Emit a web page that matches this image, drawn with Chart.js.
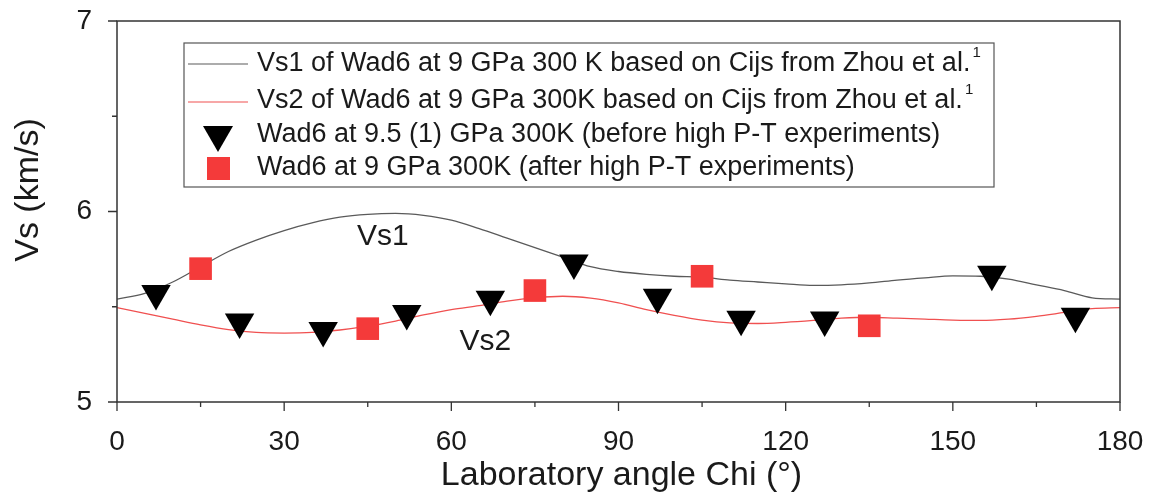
<!DOCTYPE html>
<html>
<head>
<meta charset="utf-8">
<title>Vs vs Chi</title>
<script src="https://cdn.jsdelivr.net/npm/chart.js@4.4.1/dist/chart.umd.min.js"></script>
<style>
  html, body { margin: 0; padding: 0; background: #fff; }
  #wrap { width: 1153px; height: 498px; }
</style>
</head>
<body>
<div id="wrap"><canvas id="vsChart" width="1153" height="498"></canvas></div>
<script>
// calculated curves, every 5 degrees
const curveChi = [0, 5, 10, 15, 20, 25, 30, 35, 40, 45, 50, 55, 60, 65, 70, 75, 80, 85, 90,
  95, 100, 105, 110, 115, 120, 125, 130, 135, 140, 145, 150, 155, 160, 165, 170, 175, 180];
const vs1 = [5.54, 5.57, 5.63, 5.71, 5.79, 5.85, 5.90, 5.94, 5.97, 5.985, 5.99, 5.98, 5.955,
  5.91, 5.86, 5.81, 5.76, 5.71, 5.685, 5.67, 5.66, 5.655, 5.64, 5.63, 5.62, 5.612, 5.615,
  5.625, 5.64, 5.652, 5.662, 5.66, 5.645, 5.615, 5.585, 5.547, 5.54];
const vs2 = [5.495, 5.465, 5.435, 5.405, 5.38, 5.365, 5.362, 5.365, 5.378, 5.398, 5.425,
  5.457, 5.485, 5.506, 5.53, 5.547, 5.555, 5.545, 5.52, 5.485, 5.455, 5.43, 5.415, 5.412,
  5.418, 5.428, 5.44, 5.445, 5.44, 5.435, 5.43, 5.428, 5.435, 5.45, 5.47, 5.49, 5.495];

// measured: before high P-T experiments
const beforeChi = [7, 22, 37, 52, 67, 82, 97, 112, 127, 157, 172];
const beforeVs = [5.57, 5.42, 5.375, 5.465, 5.54, 5.73, 5.55, 5.435, 5.43, 5.67, 5.45];

// measured: after high P-T experiments
const afterChi = [15, 45, 75, 105, 135];
const afterVs = [5.70, 5.385, 5.585, 5.66, 5.40];

const xTicks = [0, 30, 60, 90, 120, 150, 180];
const yTicks = [5, 6, 7];

const xTitle = "Laboratory angle Chi (°)";
const yTitle = "Vs (km/s)";
const legendLabels = [
  "Vs1 of Wad6 at 9 GPa 300 K based on Cijs from Zhou et al.",
  "Vs2 of Wad6 at 9 GPa 300K based on Cijs from Zhou et al.",
  "Wad6 at 9.5 (1) GPa 300K (before high P-T experiments)",
  "Wad6 at 9 GPa 300K (after high P-T experiments)",
];
const curveNotes = [
  { text: "Vs1", x: 47.7, y: 5.87 },
  { text: "Vs2", x: 66.1, y: 5.316 },
];

const FONT = '"Liberation Sans", Arial, sans-serif';
const INK = "#1a1a1a";
const GREY_LINE = "#5a5a5a";
const RED_LINE = "#f05050";
const RED_MARK = "#f43a3a";

const toPoints = (xs, ys) => xs.map((x, i) => ({ x: x, y: ys[i] }));

// frame, outward ticks (major longer than minor), axis titles, curve names
const frameTicks = {
  id: "frameTicks",
  afterDatasetsDraw(chart) {
    const { ctx, chartArea: a, scales } = chart;
    ctx.save();
    ctx.strokeStyle = "#333";
    ctx.lineWidth = 1.5;
    ctx.strokeRect(a.left, a.top, a.right - a.left, a.bottom - a.top);
    ctx.lineWidth = 1.3;
    ctx.beginPath();
    for (let v = 0; v <= 180; v += 15) {
      const px = scales.x.getPixelForValue(v);
      const len = v % 30 === 0 ? 9 : 5;
      ctx.moveTo(px, a.bottom);
      ctx.lineTo(px, a.bottom + len);
    }
    for (let v = 5; v <= 7.001; v += 0.5) {
      const py = scales.y.getPixelForValue(v);
      const len = Math.abs(v - Math.round(v)) < 0.01 ? 9 : 5;
      ctx.moveTo(a.left, py);
      ctx.lineTo(a.left - len, py);
    }
    ctx.stroke();

    ctx.fillStyle = INK;
    ctx.textAlign = "center";
    ctx.textBaseline = "alphabetic";
    ctx.font = "34px " + FONT;
    ctx.fillText(xTitle, (a.left + a.right) / 2 + 3, 485);
    ctx.save();
    ctx.translate(38, 190);
    ctx.rotate(-Math.PI / 2);
    ctx.fillText(yTitle, 0, 0);
    ctx.restore();

    ctx.font = "30px " + FONT;
    ctx.textBaseline = "middle";
    curveNotes.forEach((n) => {
      ctx.fillText(n.text, scales.x.getPixelForValue(n.x), scales.y.getPixelForValue(n.y));
    });
    ctx.restore();
  },
};

// boxed legend in the upper part of the plot
const boxLegend = {
  id: "boxLegend",
  afterDraw(chart) {
    const { ctx } = chart;
    const box = { l: 184, t: 43, r: 994, b: 187 };
    const rows = [64, 101, 135, 168];
    const textX = 257;
    ctx.save();
    ctx.fillStyle = "#fff";
    ctx.fillRect(box.l, box.t, box.r - box.l, box.b - box.t);
    ctx.strokeStyle = "#555";
    ctx.lineWidth = 1.2;
    ctx.strokeRect(box.l, box.t, box.r - box.l, box.b - box.t);

    // line samples
    ctx.lineWidth = 1.2;
    ctx.strokeStyle = GREY_LINE;
    ctx.beginPath(); ctx.moveTo(188, rows[0]); ctx.lineTo(248, rows[0]); ctx.stroke();
    ctx.strokeStyle = RED_LINE;
    ctx.beginPath(); ctx.moveTo(188, rows[1] + 1); ctx.lineTo(248, rows[1] + 1); ctx.stroke();

    // marker samples
    ctx.fillStyle = "#000";
    ctx.beginPath();
    ctx.moveTo(203, 126);
    ctx.lineTo(233, 126);
    ctx.lineTo(218, 152);
    ctx.closePath();
    ctx.fill();
    ctx.fillStyle = RED_MARK;
    ctx.fillRect(207, 157, 23, 23);

    ctx.fillStyle = INK;
    ctx.textAlign = "left";
    ctx.textBaseline = "middle";
    legendLabels.forEach((txt, i) => {
      ctx.font = "27px " + FONT;
      ctx.fillText(txt, textX, rows[i]);
      if (i < 2) {
        const w = ctx.measureText(txt).width;
        ctx.font = "15px " + FONT;
        ctx.fillText("1", textX + w + 2, rows[i] - 11);
      }
    });
    ctx.restore();
  },
};

new Chart(document.getElementById("vsChart"), {
  type: "scatter",
  data: {
    datasets: [
      {
        label: "Vs1",
        data: toPoints(curveChi, vs1),
        showLine: true,
        borderColor: GREY_LINE,
        borderWidth: 1.3,
        pointRadius: 0,
        cubicInterpolationMode: "monotone",
        order: 3,
      },
      {
        label: "Vs2",
        data: toPoints(curveChi, vs2),
        showLine: true,
        borderColor: RED_LINE,
        borderWidth: 1.3,
        pointRadius: 0,
        cubicInterpolationMode: "monotone",
        order: 2,
      },
      {
        label: "before",
        data: toPoints(beforeChi, beforeVs),
        pointStyle: "triangle",
        rotation: 180,
        pointRadius: 17,
        backgroundColor: "#000",
        borderWidth: 0,
        order: 1,
      },
      {
        label: "after",
        data: toPoints(afterChi, afterVs),
        pointStyle: "rect",
        pointRadius: 16,
        backgroundColor: RED_MARK,
        borderWidth: 0,
        order: 0,
      },
    ],
  },
  options: {
    responsive: false,
    animation: false,
    layout: { padding: { top: 21, right: 33, bottom: 0, left: 0 } },
    plugins: {
      legend: { display: false },
      tooltip: { enabled: false },
    },
    scales: {
      x: {
        type: "linear",
        min: 0,
        max: 180,
        afterBuildTicks: (s) => { s.ticks = xTicks.map((v) => ({ value: v })); },
        afterFit: (s) => { s.height = 96; s.paddingLeft = 0; s.paddingRight = 0; },
        grid: { display: false },
        border: { display: false },
        ticks: { color: INK, padding: 15, maxRotation: 0, font: { family: FONT, size: 28 } },
      },
      y: {
        type: "linear",
        min: 5,
        max: 7,
        afterBuildTicks: (s) => { s.ticks = yTicks.map((v) => ({ value: v })); },
        afterFit: (s) => { s.width = 117; s.paddingTop = 0; s.paddingBottom = 0; },
        grid: { display: false },
        border: { display: false },
        ticks: { color: INK, padding: 17, font: { family: FONT, size: 28 } },
      },
    },
  },
  plugins: [frameTicks, boxLegend],
});
</script>
</body>
</html>
